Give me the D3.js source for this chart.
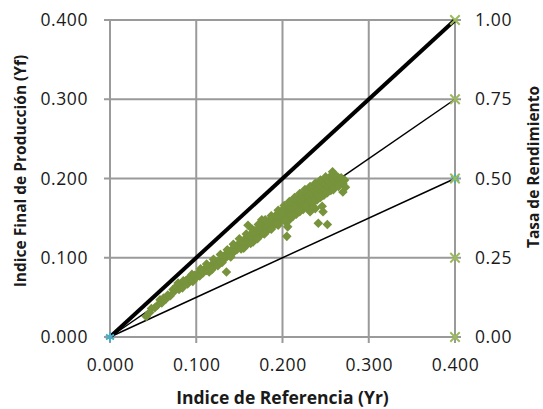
<!DOCTYPE html>
<html>
<head>
<meta charset="utf-8">
<script src="https://cdn.jsdelivr.net/npm/d3@7"></script>
<style>
  body { margin: 0; background: #fff; }
  svg { display: block; font-family: "Open Sans", sans-serif; }
</style>
</head>
<body>
<svg id="chart" width="543" height="409"></svg>
<script>
"use strict";

// scatter data: reference index (Yr) vs final yield (Yf)
let yrValues = [
  0.042, 0.046, 0.048, 0.052, 0.055, 0.058, 0.060, 0.062, 0.065, 0.067,
  0.070, 0.073, 0.075, 0.077, 0.079, 0.080, 0.082, 0.084, 0.086, 0.088,
  0.090, 0.091, 0.093, 0.095, 0.096, 0.098, 0.100,
  0.102, 0.104, 0.106, 0.108, 0.110, 0.112, 0.113, 0.115, 0.117, 0.118,
  0.120, 0.122, 0.123, 0.125, 0.127, 0.128, 0.130, 0.132, 0.133, 0.135,
  0.135, 0.137, 0.138, 0.140, 0.141, 0.143, 0.144, 0.146, 0.147, 0.148,
  0.150,
  0.151, 0.152, 0.154, 0.155, 0.156, 0.157, 0.158, 0.160, 0.160, 0.161,
  0.162, 0.163, 0.164, 0.165, 0.166, 0.167, 0.168, 0.169, 0.170, 0.171,
  0.172, 0.173, 0.174, 0.175, 0.176, 0.176, 0.177, 0.178, 0.179, 0.180,
  0.181, 0.182, 0.183, 0.184, 0.185, 0.186, 0.187, 0.188, 0.189, 0.190,
  0.191, 0.192, 0.193, 0.194, 0.195, 0.196, 0.197, 0.198, 0.199, 0.200,
  0.201, 0.202, 0.203, 0.204, 0.205, 0.205, 0.206, 0.206, 0.207, 0.208,
  0.209, 0.210, 0.211, 0.212, 0.213, 0.214, 0.215, 0.216, 0.217, 0.218,
  0.219, 0.220, 0.221, 0.222, 0.223, 0.224, 0.225, 0.226, 0.227, 0.228,
  0.229, 0.230, 0.231, 0.232, 0.233, 0.234, 0.235, 0.236, 0.237, 0.238,
  0.239, 0.240, 0.241, 0.2415, 0.242, 0.243, 0.244, 0.245, 0.246, 0.247,
  0.247, 0.248, 0.249, 0.250, 0.251, 0.252, 0.252, 0.253, 0.254, 0.255,
  0.256, 0.257, 0.258, 0.258, 0.259, 0.260, 0.261, 0.262, 0.263, 0.264,
  0.265, 0.266, 0.267, 0.268, 0.270, 0.270, 0.272, 0.273, 0.246, 0.238,
  0.232, 0.227, 0.221, 0.215, 0.209, 0.203,
  // upper edge of the cloud
  0.150, 0.158, 0.165, 0.172, 0.180, 0.187, 0.195, 0.202, 0.208, 0.214,
  0.220, 0.226, 0.232, 0.238, 0.244, 0.250, 0.120, 0.128, 0.136, 0.143,
  0.105, 0.112, 0.095, 0.085,
  // lower edge of the cloud
  0.155, 0.163, 0.171, 0.179, 0.187, 0.195, 0.203, 0.211, 0.219, 0.227,
  0.235, 0.243, 0.251, 0.259, 0.265, 0.140, 0.130, 0.118
];
let yfValues = [
  0.026, 0.031, 0.036, 0.037, 0.040, 0.047, 0.043, 0.049, 0.048, 0.053,
  0.052, 0.060, 0.058, 0.064, 0.068, 0.060, 0.066, 0.062, 0.069, 0.071,
  0.067, 0.074, 0.072, 0.076, 0.070, 0.078, 0.075,
  0.080, 0.077, 0.083, 0.081, 0.086, 0.084, 0.088, 0.082, 0.090, 0.087,
  0.093, 0.091, 0.095, 0.090, 0.097, 0.094, 0.100, 0.098, 0.103, 0.082,
  0.101, 0.106, 0.103, 0.109, 0.105, 0.111, 0.108, 0.113, 0.110, 0.116,
  0.114,
  0.119, 0.111, 0.117, 0.122, 0.114, 0.120, 0.125, 0.141, 0.118, 0.123,
  0.128, 0.121, 0.126, 0.131, 0.120, 0.129, 0.134, 0.124, 0.131, 0.136,
  0.127, 0.133, 0.138, 0.129, 0.148, 0.135, 0.140, 0.131, 0.137, 0.143,
  0.133, 0.140, 0.145, 0.136, 0.142, 0.148, 0.138, 0.145, 0.150, 0.141,
  0.147, 0.153, 0.143, 0.150, 0.156, 0.146, 0.152, 0.158, 0.148, 0.155,
  0.161, 0.150, 0.157, 0.163, 0.127, 0.153, 0.139, 0.160, 0.166, 0.148,
  0.156, 0.163, 0.169, 0.152, 0.159, 0.166, 0.172, 0.155, 0.162, 0.169,
  0.175, 0.158, 0.165, 0.172, 0.178, 0.161, 0.168, 0.175, 0.181, 0.164,
  0.171, 0.178, 0.184, 0.167, 0.174, 0.181, 0.187, 0.170, 0.177, 0.184,
  0.190, 0.173, 0.180, 0.1435, 0.187, 0.193, 0.176, 0.183, 0.190, 0.158,
  0.196, 0.179, 0.186, 0.193, 0.199, 0.142, 0.182, 0.189, 0.196, 0.202,
  0.185, 0.192, 0.2086, 0.199, 0.188, 0.195, 0.204, 0.191, 0.198, 0.202,
  0.193, 0.199, 0.196, 0.201, 0.183, 0.194, 0.198, 0.189, 0.165, 0.162,
  0.158, 0.167, 0.161, 0.163, 0.152, 0.146,
  // upper edge of the cloud
  0.124, 0.130, 0.136, 0.142, 0.148, 0.153, 0.160, 0.166, 0.171, 0.176,
  0.181, 0.186, 0.190, 0.194, 0.198, 0.202, 0.098, 0.104, 0.110, 0.117,
  0.086, 0.092, 0.079, 0.071,
  // lower edge of the cloud
  0.112, 0.118, 0.124, 0.130, 0.136, 0.141, 0.147, 0.153, 0.159, 0.165,
  0.171, 0.176, 0.182, 0.186, 0.190, 0.101, 0.094, 0.085
];

// reference lines from the origin, ending at Yr = 0.4
let lineEnds = [0.4, 0.3, 0.2];
let lineWidths = [4, 1.5, 1.5];

// secondary axis markers (Tasa de Rendimiento) at Yr = 0.4
let rateMarks = [0, 0.25, 0.5, 0.75, 1.0];
let blueMarks = [{ x: 0, y: 0 }, { x: 0.4, y: 0.5 }];

let xTicks = [0, 0.1, 0.2, 0.3, 0.4];
let yTicks = [0, 0.1, 0.2, 0.3, 0.4];
let rTicks = [0, 0.25, 0.5, 0.75, 1.0];

let svg = d3.select("#chart");
let plotLeft = 110, plotRight = 455, plotTop = 20, plotBottom = 337;

let x = d3.scaleLinear().domain([0, 0.4]).range([plotLeft, plotRight]);
let y = d3.scaleLinear().domain([0, 0.4]).range([plotBottom, plotTop]);
let yR = d3.scaleLinear().domain([0, 1]).range([plotBottom, plotTop]);

let gridColor = "#9a9a9a";

// gridlines (they also make the tick marks)
svg.append("g")
  .selectAll("line")
  .data(xTicks)
  .join("line")
  .attr("x1", d => x(d)).attr("x2", d => x(d))
  .attr("y1", plotTop).attr("y2", plotBottom + 6)
  .attr("stroke", gridColor).attr("stroke-width", 2);

svg.append("g")
  .selectAll("line")
  .data(yTicks)
  .join("line")
  .attr("x1", plotLeft - 6).attr("x2", plotRight + 6)
  .attr("y1", d => y(d)).attr("y2", d => y(d))
  .attr("stroke", gridColor).attr("stroke-width", 2);

// axes: labels only
let leftAxis = svg.append("g")
  .attr("transform", `translate(${plotLeft},0)`)
  .call(d3.axisLeft(y).tickValues(yTicks).tickFormat(d3.format(".3f")).tickSize(0).tickPadding(22));
let bottomAxis = svg.append("g")
  .attr("transform", `translate(0,${plotBottom})`)
  .call(d3.axisBottom(x).tickValues(xTicks).tickFormat(d3.format(".3f")).tickSize(0).tickPadding(22));
let rightAxis = svg.append("g")
  .attr("transform", `translate(${plotRight},0)`)
  .call(d3.axisRight(yR).tickValues(rTicks).tickFormat(d3.format(".2f")).tickSize(0).tickPadding(20));

[leftAxis, bottomAxis, rightAxis].forEach(g => {
  g.select(".domain").remove();
  g.selectAll("text")
    .attr("fill", "#1a1a1a")
    .style("font-family", "'Open Sans', sans-serif")
    .style("font-size", "17.5px")
    .style("letter-spacing", "0.6px");
});

// lines from origin (drawn under the points)
svg.append("g")
  .selectAll("line")
  .data(lineEnds)
  .join("line")
  .attr("x1", x(0)).attr("y1", y(0))
  .attr("x2", x(0.4)).attr("y2", d => y(d))
  .attr("stroke", "#000")
  .attr("stroke-width", (d, i) => lineWidths[i]);

// scatter points as square diamonds
let square = d3.symbol().type(d3.symbolSquare).size(46);
svg.append("g")
  .selectAll("path")
  .data(d3.zip(yrValues, yfValues))
  .join("path")
  .attr("d", square)
  .attr("transform", d => `translate(${x(d[0])},${y(d[1])}) rotate(45)`)
  .attr("fill", "#77933c");

// blue star markers
let star = d3.symbol().type(d3.symbolAsterisk).size(60);
svg.append("g")
  .selectAll("path")
  .data(blueMarks)
  .join("path")
  .attr("d", star)
  .attr("transform", d => `translate(${x(d.x)},${yR(d.y)})`)
  .attr("fill", "none")
  .attr("stroke", "#4bacc6")
  .attr("stroke-width", 2);

// green x markers on the secondary axis
let cross = d3.symbol().type(d3.symbolX).size(60);
svg.append("g")
  .selectAll("path")
  .data(rateMarks)
  .join("path")
  .attr("d", cross)
  .attr("transform", d => `translate(${x(0.4)},${yR(d)})`)
  .attr("fill", "none")
  .attr("stroke", "#9bbb59")
  .attr("stroke-width", 2);

// axis titles
svg.append("text")
  .attr("x", (plotLeft + plotRight) / 2)
  .attr("y", 404)
  .attr("text-anchor", "middle")
  .attr("font-weight", "bold")
  .style("font-size", "17.5px")
  .attr("fill", "#1a1a1a")
  .text("Indice de Referencia (Yr)");

svg.append("text")
  .attr("transform", "rotate(-90)")
  .attr("x", -171)
  .attr("y", 26)
  .attr("text-anchor", "middle")
  .attr("font-weight", "bold")
  .style("font-size", "15.5px")
  .attr("fill", "#1a1a1a")
  .text("Indice Final de Producción (Yf)");

svg.append("text")
  .attr("transform", "rotate(-90)")
  .attr("x", -167)
  .attr("y", 539)
  .attr("text-anchor", "middle")
  .attr("font-weight", "bold")
  .style("font-size", "15.5px")
  .attr("fill", "#1a1a1a")
  .text("Tasa de Rendimiento");
</script>
</body>
</html>
